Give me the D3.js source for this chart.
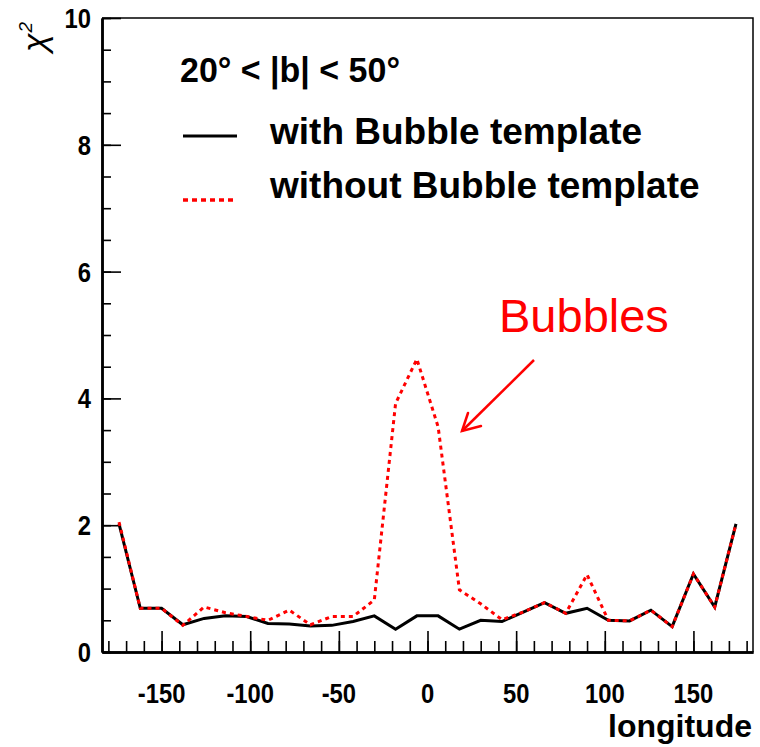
<!DOCTYPE html>
<html>
<head>
<meta charset="utf-8">
<script src="https://cdn.jsdelivr.net/npm/d3@7"></script>
<style>
  body { margin: 0; background: #fff; }
  text { font-family: "Liberation Sans", Arial, sans-serif; }
</style>
</head>
<body>
<script>
var width = 760,
    height = 747;

// bin centres in galactic longitude (deg)
var longitudes = [-174, -162, -150, -138, -126, -114, -102, -90, -78, -66,
                  -54, -42, -30, -18, -6, 6, 18, 30, 42, 54,
                  66, 78, 90, 102, 114, 126, 138, 150, 162, 174];

var withBubble = [2.02, 0.69, 0.69, 0.43, 0.53, 0.57, 0.56, 0.45, 0.44, 0.41,
                  0.42, 0.48, 0.57, 0.36, 0.57, 0.57, 0.36, 0.50, 0.48, 0.63,
                  0.78, 0.61, 0.69, 0.50, 0.49, 0.66, 0.40, 1.23, 0.71, 2.02];

var withoutBubble = [2.05, 0.69, 0.69, 0.42, 0.71, 0.62, 0.56, 0.50, 0.66, 0.43,
                     0.56, 0.56, 0.82, 3.92, 4.62, 3.55, 0.98, 0.76, 0.51, 0.63,
                     0.78, 0.61, 1.22, 0.50, 0.49, 0.66, 0.40, 1.23, 0.71, 2.02];

var xMajor = [-150, -100, -50, 0, 50, 100, 150];
var yMajor = [0, 2, 4, 6, 8, 10];

var x = d3.scaleLinear().domain([-183.6, 183.6]).range([102, 753]);
var y = d3.scaleLinear().domain([0, 10]).range([652, 18]);

var svg = d3.select("body").append("svg")
    .attr("width", width)
    .attr("height", height);

// frame (top + right)
svg.append("path")
    .attr("d", "M" + x.range()[0] + "," + y(10) + "H" + x.range()[1] + "V" + y(0))
    .attr("fill", "none")
    .attr("stroke", "#000")
    .attr("stroke-width", 1.5);

// x axis: minor ticks then major ticks, pointing inward
var xMinor = d3.range(-180, 181, 10);
var xAxisG = svg.append("g").attr("transform", "translate(0," + y(0) + ")");
xAxisG.append("g")
    .call(d3.axisBottom(x).tickValues(xMinor).tickSize(-11).tickSizeOuter(0).tickFormat(""));
xAxisG.append("g")
    .call(d3.axisBottom(x).tickValues(xMajor).tickSize(-21).tickSizeOuter(0).tickFormat(""));
xAxisG.selectAll("line").attr("stroke", "#000").attr("stroke-width", 1.6);
xAxisG.selectAll(".domain").attr("stroke", "#000").attr("stroke-width", 2.5);

var yMinor = d3.range(0, 10.01, 0.5);
var yAxisG = svg.append("g").attr("transform", "translate(" + x.range()[0] + ",0)");
yAxisG.append("g")
    .call(d3.axisLeft(y).tickValues(yMinor).tickSize(-9).tickSizeOuter(0).tickFormat(""));
yAxisG.append("g")
    .call(d3.axisLeft(y).tickValues(yMajor).tickSize(-19).tickSizeOuter(0).tickFormat(""));
yAxisG.selectAll("line").attr("stroke", "#000").attr("stroke-width", 1.6);
yAxisG.selectAll(".domain").attr("stroke", "#000").attr("stroke-width", 2.5);

// tick labels (narrow bold, like the ROOT output)
svg.append("g").selectAll("text")
    .data(xMajor)
  .enter().append("text")
    .attr("transform", function(d) { return "translate(" + x(d) + ",703) scale(0.85,1)"; })
    .attr("text-anchor", "middle")
    .attr("font-size", 28)
    .attr("font-weight", "bold")
    .text(function(d) { return d; });

svg.append("g").selectAll("text")
    .data(yMajor)
  .enter().append("text")
    .attr("transform", function(d) { return "translate(91," + (y(d) + 10) + ") scale(0.85,1)"; })
    .attr("text-anchor", "end")
    .attr("font-size", 28)
    .attr("font-weight", "bold")
    .text(function(d) { return d; });

// axis titles
svg.append("text")
    .attr("x", 752)
    .attr("y", 737)
    .attr("text-anchor", "end")
    .attr("font-size", 32)
    .attr("font-weight", "bold")
    .text("longitude");

var ytitle = svg.append("text")
    .attr("transform", "translate(46,52) rotate(-90)")
    .attr("font-family", "DejaVu Serif, serif")
    .attr("font-style", "italic")
    .attr("font-size", 34);
ytitle.append("tspan").text("χ");
ytitle.append("tspan").attr("font-size", 19).attr("dx", 1).attr("dy", -14).text("2");

// data lines
var line = d3.line()
    .x(function(d, i) { return x(longitudes[i]); })
    .y(function(d) { return y(d); });

svg.append("path")
    .datum(withBubble)
    .attr("d", line)
    .attr("fill", "none")
    .attr("stroke", "#000")
    .attr("stroke-width", 3);

svg.append("path")
    .datum(withoutBubble)
    .attr("d", line)
    .attr("fill", "none")
    .attr("stroke", "#ff0000")
    .attr("stroke-width", 3)
    .attr("stroke-dasharray", "4,4");

// legend
svg.append("text")
    .attr("x", 180)
    .attr("y", 82)
    .attr("font-size", 35)
    .attr("font-weight", "bold")
    .attr("textLength", 220)
    .attr("lengthAdjust", "spacingAndGlyphs")
    .text("20° < |b| < 50°");

svg.append("line")
    .attr("x1", 183).attr("x2", 237)
    .attr("y1", 136).attr("y2", 136)
    .attr("stroke", "#000")
    .attr("stroke-width", 3);

svg.append("line")
    .attr("x1", 183).attr("x2", 237)
    .attr("y1", 200).attr("y2", 200)
    .attr("stroke", "#ff0000")
    .attr("stroke-width", 3.5)
    .attr("stroke-dasharray", "5,4");

svg.append("text")
    .attr("x", 270)
    .attr("y", 144)
    .attr("font-size", 37)
    .attr("font-weight", "bold")
    .text("with Bubble template");

svg.append("text")
    .attr("x", 270)
    .attr("y", 198)
    .attr("font-size", 37)
    .attr("font-weight", "bold")
    .text("without Bubble template");

// annotation
svg.append("text")
    .attr("x", 499)
    .attr("y", 332)
    .attr("font-size", 47)
    .attr("fill", "#ff0000")
    .text("Bubbles");

svg.append("line")
    .attr("x1", 534).attr("y1", 360)
    .attr("x2", 462).attr("y2", 431)
    .attr("stroke", "#ff0000")
    .attr("stroke-width", 2.5);

svg.append("path")
    .attr("d", "M468,413L462,431L481,426")
    .attr("fill", "none")
    .attr("stroke", "#ff0000")
    .attr("stroke-width", 2.5)
    .attr("stroke-linecap", "round");
</script>
</body>
</html>
